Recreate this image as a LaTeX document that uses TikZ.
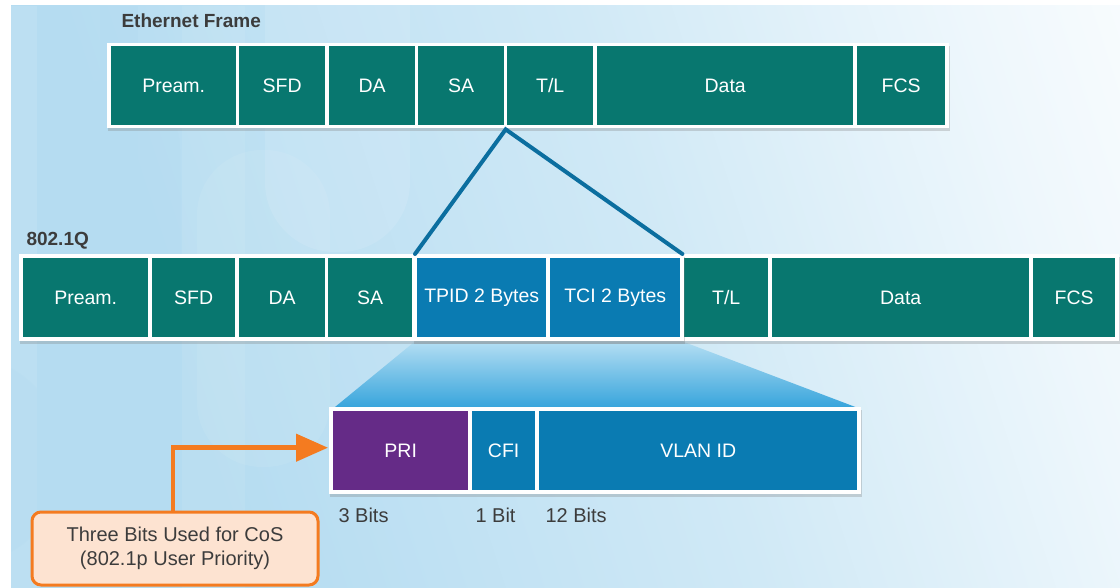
\documentclass[tikz,border=0pt]{standalone}
\usepackage{fontspec}
\setmainfont{Liberation Sans}
\usetikzlibrary{shadows,arrows.meta,calc}

\definecolor{frameteal}{HTML}{08776F}
\definecolor{tagblue}{HTML}{0A7BB2}
\definecolor{pripurple}{HTML}{652B87}
\definecolor{linkblue}{HTML}{0B6E9F}
\definecolor{bgleft}{HTML}{B5DCF1}
\definecolor{bgmid}{HTML}{D0E9F6}
\definecolor{bgright}{HTML}{EEF7FC}
\definecolor{wedgetop}{HTML}{B4DEF3}
\definecolor{wedgebot}{HTML}{38A5DC}
\definecolor{callorange}{HTML}{F47B20}
\definecolor{callfill}{HTML}{FDE3D1}
\definecolor{labelgray}{HTML}{3C3C3C}

\pgfdeclarehorizontalshading{backdrop}{100bp}{%
  color(0bp)=(bgleft); color(30bp)=(bgleft); color(55bp)=(bgmid);
  color(74bp)=(bgright); color(88bp)=(white); color(100bp)=(white)}

\pgfdeclarelayer{bg}
\pgfsetlayers{bg,main}

\tikzset{
  cell/.style={rectangle, anchor=north west, inner sep=0pt, text=white,
    font=\fontsize{19.5}{22}\selectfont},
  backing/.style={rectangle, anchor=north west, inner sep=0pt, fill=white,
    drop shadow={shadow xshift=1pt, shadow yshift=-3pt, opacity=0.3}},
  title/.style={anchor=west, text=labelgray, font=\bfseries\fontsize{19}{22}\selectfont},
  bitlabel/.style={anchor=west, text=labelgray, font=\fontsize{20}{23}\selectfont},
  link/.style={draw=linkblue, line width=4pt},
}

% \fcell{name}{x left}{x right}{y top}{y bottom}{colour}{text}
\newcommand\fcell[7]{%
  \node[cell, fill=#6, minimum width={(#3-#2)*1pt}, minimum height={(#5-#4)*1pt}]
    (#1) at (#2,#4) {#7};}
% \fback{name}{x left}{x right}{y top}{y bottom}
\newcommand\fback[5]{%
  \node[backing, minimum width={(#3-#2)*1pt}, minimum height={(#5-#4)*1pt}]
    (#1) at (#2,#4) {};}

\begin{document}
\begin{tikzpicture}[x=1pt,y=-1pt]
\useasboundingbox (0,0) rectangle (1120,588);

% Ethernet frame
\node[title] (ethTitle) at (118,21) {Ethernet Frame};
\fback{rowTop}{107}{949}{43}{128}
\fcell{ePre}{111}{236}{46}{125}{frameteal}{Pream.}
\fcell{eSfd}{239}{325}{46}{125}{frameteal}{SFD}
\fcell{eDa}{329}{415}{46}{125}{frameteal}{DA}
\fcell{eSa}{418}{504}{46}{125}{frameteal}{SA}
\fcell{eTl}{507}{593}{46}{125}{frameteal}{T/L}
\fcell{eData}{597}{853}{46}{125}{frameteal}{Data}
\fcell{eFcs}{857}{945}{46}{125}{frameteal}{FCS}

% 802.1Q tagged frame
\node[title] (qTitle) at (23,241) {802.1Q};
\fback{rowMid}{19}{1119}{254}{341}
\fcell{qPre}{23}{148}{258}{337}{frameteal}{Pream.}
\fcell{qSfd}{152}{235}{258}{337}{frameteal}{SFD}
\fcell{qDa}{239}{325}{258}{337}{frameteal}{DA}
\fcell{qSa}{328}{412}{258}{337}{frameteal}{SA}
\fcell{qTl}{684}{768}{258}{337}{frameteal}{T/L}
\fcell{qData}{772}{1029}{258}{337}{frameteal}{Data}
\fcell{qFcs}{1033}{1115}{258}{337}{frameteal}{FCS}
\fback{tagGroup}{413}{684}{254}{341}
\fcell{qTpid}{417}{546}{258}{337}{tagblue}{TPID 2 Bytes}
\fcell{qTci}{550}{680}{258}{337}{tagblue}{TCI 2 Bytes}

% TCI breakdown
\fback{rowBot}{329}{861}{407}{494}
\fcell{tPri}{333}{468}{411}{490}{pripurple}{PRI}
\fcell{tCfi}{472}{535}{411}{490}{tagblue}{CFI}
\fcell{tVid}{539}{857}{411}{490}{tagblue}{VLAN ID}
\node[bitlabel] (bPri) at (335,515) {3 Bits};
\node[bitlabel] (bCfi) at (472,515) {1 Bit};
\node[bitlabel] (bVid) at (542,515) {12 Bits};

% tag inserted between SA and T/L
\coordinate (apex) at ($(eSa.south east)!0.5!(eTl.south west)+(0,4)$);
\draw[link, line cap=round] ($(tagGroup.north west)+(2,0)$) -- (apex) -- ($(tagGroup.north east)+(-2,0)$);

% callout for the priority bits
\node[rectangle, rounded corners=9pt, fill=callfill, draw=callorange, line width=3pt,
      minimum width=286pt, minimum height=73pt, align=center, text=labelgray,
      font=\fontsize{20}{23.5}\selectfont] (cos) at (175,548.5)
      {Three Bits Used for CoS\\(802.1p User Priority)};
\draw[draw=callorange, line width=4.5pt, -{Triangle[length=32pt,width=27pt]}]
  ([xshift=-2pt]cos.north) |- ([xshift=-5pt,yshift=3pt]tPri.west);

\begin{pgfonlayer}{bg}
  \fill[white] (0,0) rectangle (1120,588);
  \shade[shading=backdrop, shading angle=18] (11,6) rectangle (1120,588);
  % soft columns and rounded shapes in the backdrop
  \begin{scope}
    \clip (11,6) rectangle (1120,588);
    \fill[white, opacity=0.10] (11,6) rectangle (37,588);
    \fill[bgleft, opacity=0.5] (100,6) rectangle (138,588);
    \fill[white, opacity=0.07] (182,6) rectangle (245,588);
    \fill[bgleft, opacity=0.30, rounded corners=70pt] (40,80) rectangle (180,660);
    \fill[white, opacity=0.10, rounded corners=70pt] (265,-150) rectangle (410,252);
    \fill[white, opacity=0.07, rounded corners=65pt] (197,150) rectangle (330,467);
    \fill[bgleft, opacity=0.35] (-40,460) circle (105);
  \end{scope}
  % expansion wedge from TCI down to its fields
  \shade[top color=wedgetop, bottom color=wedgebot]
    ($(tagGroup.south west)+(2,0)$) -- ($(tagGroup.south east)+(-2,0)$)
    -- ($(rowBot.north east)+(-6,0)$) -- ($(rowBot.north west)+(6,0)$) -- cycle;
\end{pgfonlayer}
\end{tikzpicture}
\end{document}
